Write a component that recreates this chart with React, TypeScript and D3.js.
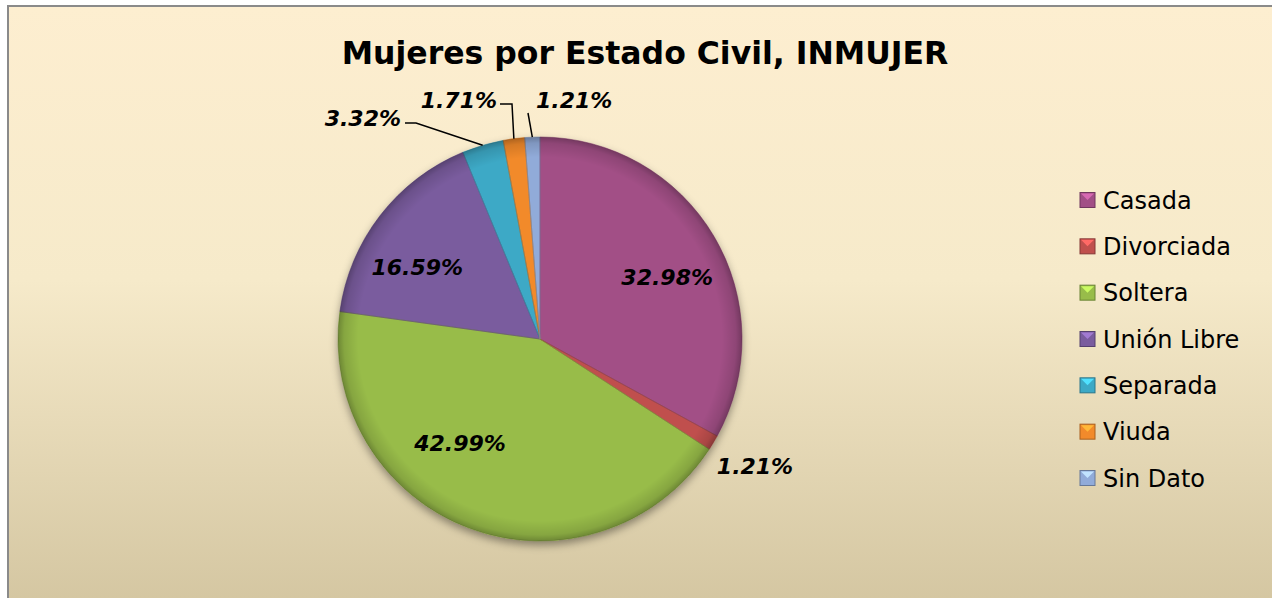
import { useMemo } from 'react'
import * as d3 from 'd3'

const categories = ['Casada', 'Divorciada', 'Soltera', 'Unión Libre', 'Separada', 'Viuda', 'Sin Dato']
const values = [32.98, 1.21, 42.99, 16.59, 3.32, 1.71, 1.21]
const colors = ['#a24f86', '#c0504d', '#98bc4a', '#7a5c9e', '#3ca9c6', '#f28a2b', '#91abd9']
const title = 'Mujeres por Estado Civil, INMUJER'

const W = 1272, H = 598
const cx = 540, cy = 339, R = 202

// thin slices get their label outside, with a leader line (page coords)
const outside: Record<number, { tx: number; ty: number; anchor: string; pts: [number, number][] }> = {
  1: { tx: 755, ty: 474, anchor: 'middle', pts: [] },
  4: { tx: 401, ty: 126, anchor: 'end', pts: [[416, 123], [405, 123]] },
  5: { tx: 497, ty: 108, anchor: 'end', pts: [[512, 104], [500, 104]] },
  6: { tx: 536, ty: 108, anchor: 'start', pts: [[528, 113]] },
}
// small nudges so inner labels sit where Excel's best fit put them
const nudge: Record<number, [number, number]> = { 0: [9, 8], 2: [-32, -24], 3: [-14, 12] }

export default function App() {
  const arcs = useMemo(() => d3.pie<number>().sort(null).value(d => d)(values), [])
  const arc = d3.arc<d3.PieArcDatum<number>>().innerRadius(0).outerRadius(R)
  const labelArc = d3.arc<d3.PieArcDatum<number>>().innerRadius(R * 0.68).outerRadius(R * 0.68)
  const edgeArc = d3.arc<d3.PieArcDatum<number>>().innerRadius(R).outerRadius(R)
  const fmt = (v: number) => v.toFixed(2) + '%'
  const line = d3.line()

  const legendY = d3.scalePoint<string>().domain(categories).range([200, 478])

  return (
    <svg width={W} height={H} style={{ position: 'absolute', left: 0, top: 0 }}
      fontFamily="'DejaVu Sans', Verdana, sans-serif">
      <defs>
        <linearGradient id="bg" x1="0" y1="0" x2="0" y2="1">
          <stop offset="0%" stopColor="#fdeed0" />
          <stop offset="45%" stopColor="#f6eaca" />
          <stop offset="100%" stopColor="#d3c5a0" />
        </linearGradient>
        <radialGradient id="bevel" cx="0.5" cy="0.5" r="0.5">
          <stop offset="90%" stopColor="#000" stopOpacity={0} />
          <stop offset="97%" stopColor="#000" stopOpacity={0.12} />
          <stop offset="100%" stopColor="#000" stopOpacity={0.28} />
        </radialGradient>
        <filter id="shadow" x="-20%" y="-20%" width="140%" height="140%">
          <feDropShadow dx="0" dy="4" stdDeviation="4" floodColor="#000" floodOpacity="0.4" />
        </filter>
      </defs>

      <rect x={8} y={6} width={W + 10} height={H + 10} fill="url(#bg)" stroke="#8a8a8a" strokeWidth={2} />

      <text x={645} y={64} textAnchor="middle" fontSize={31.5} fontWeight="bold" fill="#000">{title}</text>

      <g transform={`translate(${cx},${cy})`}>
        <g filter="url(#shadow)">
          {arcs.map((a, i) => (
            <path key={i} d={arc(a) ?? ''} fill={colors[i]} />
          ))}
        </g>
        {arcs.map((a, i) => (
          <path key={'s' + i} d={arc(a) ?? ''} fill="none"
            stroke={d3.color(colors[i])!.darker(0.6).toString()} strokeWidth={1} strokeOpacity={0.6} />
        ))}
        <circle r={R} fill="url(#bevel)" />
      </g>

      {arcs.map((a, i) => {
        const o = outside[i]
        if (o) {
          const [ex, ey] = edgeArc.centroid(a)
          const pts: [number, number][] = o.pts.length ? [[ex + cx, ey + cy], ...o.pts] : []
          return (
            <g key={'l' + i}>
              {pts.length > 0 && <path d={line(pts) ?? ''} fill="none" stroke="#000" strokeWidth={1.5} />}
              <text x={o.tx} y={o.ty} textAnchor={o.anchor} fontSize={22}
                fontWeight="bold" fontStyle="italic" fill="#000">{fmt(values[i])}</text>
            </g>
          )
        }
        const [x, y] = labelArc.centroid(a)
        const [nx, ny] = nudge[i] ?? [0, 0]
        return (
          <text key={'l' + i} x={x + cx + nx} y={y + cy + ny} dy="0.35em" textAnchor="middle" fontSize={22}
            fontWeight="bold" fontStyle="italic" fill="#000">{fmt(values[i])}</text>
        )
      })}

      <g>
        {categories.map((c, i) => {
          const y = legendY(c)!
          const col = d3.color(colors[i])!
          return (
            <g key={c} transform={`translate(1080,${y})`}>
              <rect x={0} y={-7.5} width={15} height={15} fill={colors[i]} stroke={col.darker(1).toString()} strokeWidth={1} />
              <path d="M1,-6.5L14,-6.5L7.5,0Z" fill={col.brighter(0.8).toString()} />
              <text x={23} y={0} dy="0.36em" fontSize={24} fill="#000">{c}</text>
            </g>
          )
        })}
      </g>
    </svg>
  )
}
